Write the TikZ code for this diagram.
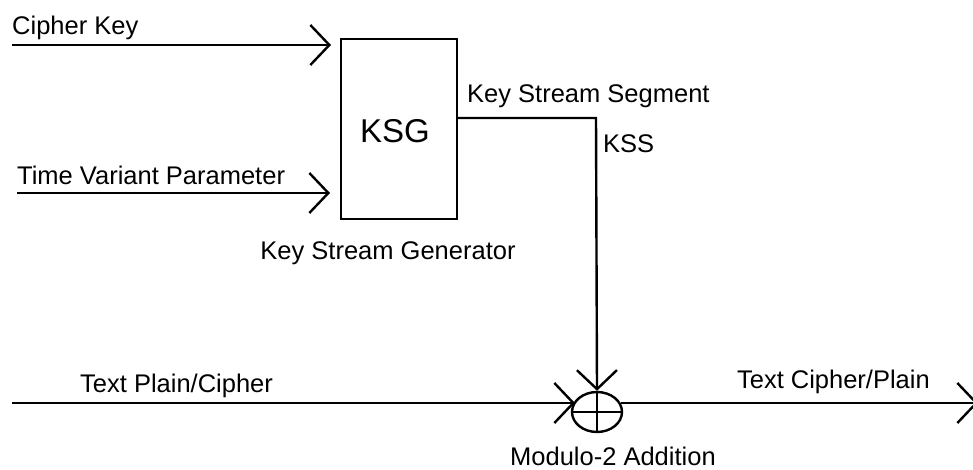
\documentclass[tikz,border=0pt]{standalone}
\usepackage{fontspec}
\setmainfont{Liberation Sans}
\usetikzlibrary{arrows.meta,shapes.geometric}
\begin{document}
\begin{tikzpicture}[x=1pt,y=-1pt,
  wire/.style={line width=2.4pt},
  vee/.style={-{Straight Barb[length=19pt,width=40pt,line width=2.4pt]}},
  lbl/.style={font=\fontsize{25.5}{28}\selectfont, inner sep=0pt},
  blk/.style={draw, line width=2.4pt, minimum width=116pt, minimum height=180pt, inner sep=0pt}]
\useasboundingbox (0,0) rectangle (973,470);
\clip (0,0) rectangle (973,470);
% block
\node[blk] (ksg) at (399,129) {};
\node[lbl, font=\fontsize{33}{36}\selectfont, anchor=base] (ksgtxt) at (395,143) {KSG};
% inputs
\coordinate (ck) at (12,45);
\coordinate (ckend) at (331,45);
\coordinate (tv) at (17,193);
\coordinate (tvend) at (330,193);
\draw[wire,vee] (ck) -- (ckend);
\draw[wire,vee] (tv) -- (tvend);
% key stream
\coordinate (kout) at (457,118);
\coordinate (kcorner) at (596,118);
% modulo-2 adder
\node[draw, ellipse, line width=2.4pt, minimum width=50pt, minimum height=40pt, inner sep=0pt] (add) at (597,412) {};
\draw[line width=2.4pt] (add.west) -- (add.east) (add.north) -- (add.south);
\draw[wire,vee] (kout) -- (kcorner) -- (add.north);
\coordinate (pin) at (12,403);
\coordinate (pinend) at (575,403);
\draw[wire,vee] (pin) -- (pinend);
\coordinate (pout) at (621,403);
\coordinate (poutend) at (978,403);
\draw[wire,vee] (pout) -- (poutend);
% labels
\node[lbl, anchor=base west] (l1) at (12,35) {Cipher Key};
\node[lbl, anchor=base west] (l2) at (17,185) {Time Variant Parameter};
\node[lbl, anchor=base] (l3) at (388,259) {Key Stream Generator};
\node[lbl, anchor=base west] (l4) at (467,103) {Key Stream Segment};
\node[lbl, anchor=base west] (l5) at (603,153) {KSS};
\node[lbl, anchor=base west] (l6) at (80,392) {Text Plain/Cipher};
\node[lbl, anchor=base east] (l7) at (930,388) {Text Cipher/Plain};
\node[lbl, anchor=base west] (l8) at (510,465) {Modulo-2 Addition};
\end{tikzpicture}
\end{document}
